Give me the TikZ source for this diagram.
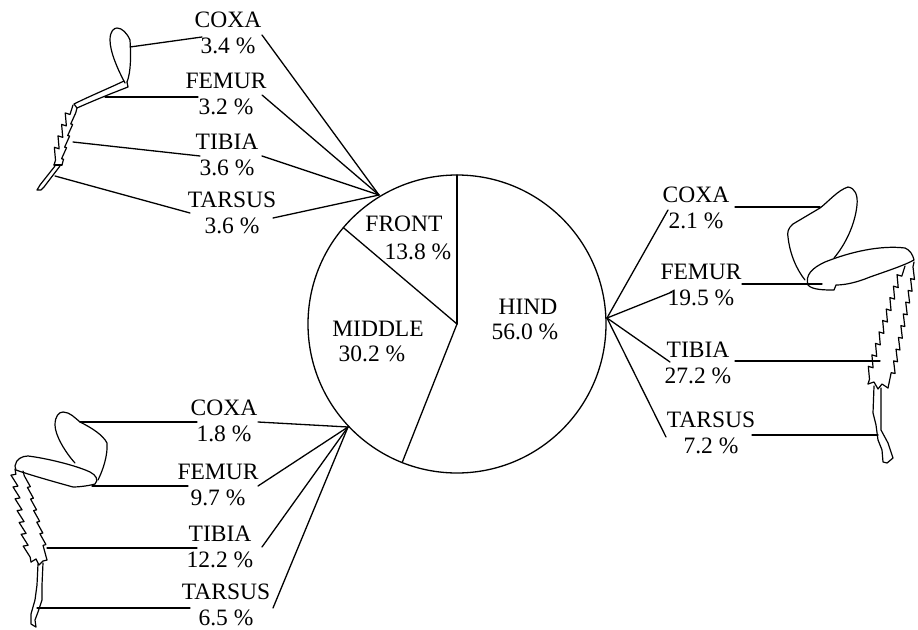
\documentclass[tikz,border=0pt]{standalone}
\usepackage{fontspec}
\setmainfont{Liberation Serif}
\usetikzlibrary{decorations.pathmorphing}
\begin{document}
\begin{tikzpicture}[x=1pt,y=-1pt,line join=round,line cap=round,
  conn/.style={line width=1.3pt},
  leg/.style={line width=1.2pt},
  lbl/.style={font=\fontsize{23.5}{25.5}\selectfont,align=center,inner sep=0pt},
  pl/.style={font=\fontsize{23.5}{25.5}\selectfont,inner sep=0pt,anchor=base},
  spiky/.style={decorate,decoration={saw,segment length=12pt,amplitude=#1,pre length=5pt,post length=5pt}}]
\useasboundingbox (0,0) rectangle (918,629);

% ---------- pie ----------
\coordinate (O) at (457,324);
\draw[conn] (O) circle[radius=149];
\draw[conn] (O) -- +(-90:149);
\draw[conn] (O) -- +(111.6:149);
\draw[conn] (O) -- +(-139.7:149);
\node[pl] (fronttxt) at (404,231) {FRONT};
\node[pl] (frontpct) at (418,259) {13.8 \%};
\node[pl] (midtxt) at (378,336) {MIDDLE};
\node[pl] (midpct) at (372,361) {30.2 \%};
\node[pl] (hindtxt) at (528,314) {HIND};
\node[pl] (hindpct) at (525,339) {56.0 \%};

% convergence points on the circle
\coordinate (F) at (379,195);
\coordinate (H) at (607,318);
\coordinate (M) at (348,427);

% ---------- front leg (top left) ----------
\node[lbl] (fcoxa) at (228,33) {COXA\\3.4 \%};
\node[lbl] (ffemur) at (226,94) {FEMUR\\3.2 \%};
\node[lbl] (ftibia) at (227,155) {TIBIA\\3.6 \%};
\node[lbl] (ftarsus) at (232,213) {TARSUS\\3.6 \%};
\coordinate (fc1) at (262,35);  \coordinate (fc2) at (202,37);  \coordinate (fc3) at (130,47);
\coordinate (ff1) at (262,95);  \coordinate (ff2) at (198,97);  \coordinate (ff3) at (105,97);
\coordinate (ft1) at (262,156); \coordinate (ft2) at (200,156); \coordinate (ft3) at (73,142);
\coordinate (fs1) at (273,218); \coordinate (fs2) at (190,213); \coordinate (fs3) at (55,176);
\draw[conn] (F) -- (fc1); \draw[conn] (fc2) -- (fc3);
\draw[conn] (F) -- (ff1); \draw[conn] (ff2) -- (ff3);
\draw[conn] (F) -- (ft1); \draw[conn] (ft2) -- (ft3);
\draw[conn] (F) -- (fs1); \draw[conn] (fs2) -- (fs3);
% drawing
\draw[leg] (125,83) .. controls (118,70) and (110,52) .. (110,40)
  .. controls (110,31) and (114,28) .. (117,28)
  .. controls (122,28) and (127,33) .. (130,40)
  .. controls (131,55) and (131,72) .. (127,82);
\draw[leg] (124,81) .. controls (105,90) and (90,96) .. (74,104) -- (77,108)
  .. controls (95,100) and (110,94) .. (128,87) -- (127,82);
\draw[leg,spiky=5pt] (54,165) -- (73,105);
\draw[leg,spiky=-2pt] (77,108) -- (62,165);
\draw[leg] (54,165) -- (62,165);
\draw[leg] (55,166) -- (40,185) -- (37,190) -- (41,190) -- (44,187) -- (60,166);

% ---------- hind leg (right) ----------
\node[lbl] (hcoxa) at (696,208) {COXA\\2.1 \%};
\node[lbl] (hfemur) at (701,285) {FEMUR\\19.5 \%};
\node[lbl] (htibia) at (698,363) {TIBIA\\27.2 \%};
\node[lbl] (htarsus) at (711,433) {TARSUS\\7.2 \%};
\coordinate (hc1) at (668,210); \coordinate (hc2) at (735,207); \coordinate (hc3) at (820,207);
\coordinate (hf1) at (672,292); \coordinate (hf2) at (742,284); \coordinate (hf3) at (822,284);
\coordinate (ht1) at (670,362); \coordinate (ht2) at (735,361); \coordinate (ht3) at (880,361);
\coordinate (hs1) at (666,437); \coordinate (hs2) at (752,435); \coordinate (hs3) at (878,435);
\draw[conn] (H) -- (hc1); \draw[conn] (hc2) -- (hc3);
\draw[conn] (H) -- (hf1); \draw[conn] (hf2) -- (hf3);
\draw[conn] (H) -- (ht1); \draw[conn] (ht2) -- (ht3);
\draw[conn] (H) -- (hs1); \draw[conn] (hs2) -- (hs3);
% drawing
\draw[leg] (834,258) .. controls (845,245) and (855,225) .. (857,205)
  .. controls (858,195) and (855,188) .. (848,187)
  .. controls (838,190) and (828,202) .. (820,208) -- (793,224)
  .. controls (788,228) and (787,233) .. (788,237)
  .. controls (790,255) and (797,270) .. (805,280);
\draw[leg] (808,285) .. controls (805,275) and (812,268) .. (825,262)
  .. controls (850,252) and (880,245) .. (905,248)
  .. controls (910,250) and (913,255) .. (914,260)
  .. controls (905,265) and (890,270) .. (870,277)
  .. controls (858,282) and (846,285) .. (836,285) -- (834,290)
  .. controls (825,290) and (812,290) .. (808,285);
\draw[leg,spiky=5pt] (868,384) -- (905,266);
\draw[leg,spiky=4pt] (914,262) -- (888,388);
\draw[leg] (868,384) -- (874,382) -- (878,389) -- (882,384) -- (888,388);
\draw[leg] (874,386) -- (873,413) -- (876,425) -- (878,440) -- (882,450) -- (883,462)
  -- (887,463) -- (893,458) -- (888,443) -- (881,430) -- (881,410) -- (881,388);

% ---------- middle leg (bottom left) ----------
\node[lbl] (mcoxa) at (224,421) {COXA\\1.8 \%};
\node[lbl] (mfemur) at (218,485) {FEMUR\\9.7 \%};
\node[lbl] (mtibia) at (220,547) {TIBIA\\12.2 \%};
\node[lbl] (mtarsus) at (226,605) {TARSUS\\6.5 \%};
\coordinate (mc1) at (258,422); \coordinate (mc2) at (197,422); \coordinate (mc3) at (80,422);
\coordinate (mf1) at (258,486); \coordinate (mf2) at (188,486); \coordinate (mf3) at (92,486);
\coordinate (mt1) at (262,547); \coordinate (mt2) at (197,548); \coordinate (mt3) at (47,548);
\coordinate (ms1) at (273,608); \coordinate (ms2) at (190,608); \coordinate (ms3) at (37,608);
\draw[conn] (M) -- (mc1); \draw[conn] (mc2) -- (mc3);
\draw[conn] (M) -- (mf1); \draw[conn] (mf2) -- (mf3);
\draw[conn] (M) -- (mt1); \draw[conn] (mt2) -- (mt3);
\draw[conn] (M) -- (ms1); \draw[conn] (ms2) -- (ms3);
% drawing
\draw[leg] (75,463) .. controls (65,452) and (55,435) .. (55,425)
  .. controls (55,416) and (59,412) .. (63,412)
  .. controls (70,412) and (75,418) .. (80,422)
  .. controls (92,428) and (103,435) .. (107,443)
  .. controls (108,455) and (103,470) .. (98,480);
\draw[leg] (15,466) .. controls (16,459) and (22,456) .. (28,456)
  .. controls (45,458) and (75,465) .. (90,472)
  .. controls (96,475) and (99,480) .. (95,484)
  .. controls (88,486) and (78,487) .. (73,487)
  .. controls (55,482) and (30,475) .. (16,470) -- cycle;
\draw[leg,spiky=5pt] (31,562) -- (15,469);
\draw[leg,spiky=3pt] (23,471) -- (47,560);
\draw[leg] (31,562) -- (36,559) -- (39,565) -- (43,561) -- (47,560);
\draw[leg] (38,564) -- (37,585) -- (35,600) -- (31,614) -- (31,624) -- (36,627)
  -- (35,620) -- (38,612) -- (42,600) -- (42,585) -- (43,563);
\end{tikzpicture}
\end{document}
